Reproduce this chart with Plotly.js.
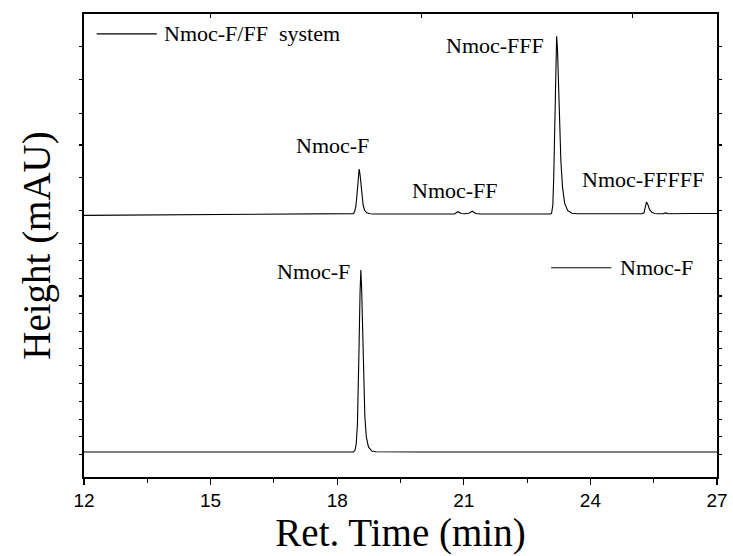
<!DOCTYPE html>
<html>
<head>
<meta charset="utf-8">
<script src="https://cdn.plot.ly/plotly-3.0.1.min.js"></script>
<style>html,body{margin:0;padding:0;background:#fff;}#chart{width:733px;height:556px;}</style>
</head>
<body>
<div id="chart"></div>
<script>
// Nmoc-F/FF system chromatogram (upper trace), offset units of Height (mAU)
const sysTime = [12, 13.5, 15, 16.5, 18, 18.34, 18.38, 18.41, 18.44, 18.46, 18.48, 18.50, 18.52, 18.54, 18.56, 18.585, 18.615, 18.65, 18.70, 18.78, 18.88,
  19.5, 20.3, 20.78, 20.86, 20.94, 21.02, 21.12, 21.20, 21.28, 21.40, 22.2, 23.06, 23.08, 23.11, 23.13, 23.15, 23.17, 23.185, 23.20, 23.22, 23.24, 23.27, 23.30,
  23.34, 23.39, 23.46, 23.56, 23.70, 24.4, 25.22, 25.27, 25.30, 25.33, 25.36, 25.40, 25.45, 25.52, 25.60, 25.72, 25.78, 25.85, 26.4, 27];
const sysHeight = [56.5, 56.55, 56.6, 56.7, 56.75, 56.8, 56.88, 57.22, 58.32, 60.04, 62.62, 65.20, 66.5, 65.44, 63.23, 60.65, 58.69, 57.61, 57.07, 56.85, 56.8,
  56.8, 56.8, 56.8, 57.3, 56.9, 56.85, 56.95, 57.4, 56.9, 56.8, 56.8, 56.8, 56.99, 58.72, 64.48, 74.08, 85.6, 92.51, 95.2, 92.51, 85.6, 76.0, 68.32,
  62.56, 59.10, 57.57, 56.95, 56.85, 56.85, 56.85, 57.05, 58.2, 59.4, 58.9, 57.8, 57.2, 56.9, 56.85, 56.85, 57.05, 56.85, 56.9, 56.9];

// Nmoc-F standard (lower trace)
const fTime = [12, 14, 16, 18, 18.38, 18.42, 18.45, 18.48, 18.50, 18.52, 18.54, 18.56, 18.58, 18.60, 18.625, 18.655, 18.69, 18.74, 18.82, 18.92, 20, 22, 24, 27];
const fHeight = [5.4, 5.4, 5.45, 5.4, 5.4, 5.71, 7.09, 11.57, 18.53, 28.98, 39.43, 44.7, 40.42, 31.46, 21.0, 13.06, 8.66, 6.50, 5.60, 5.45, 5.4, 5.4, 5.4, 5.4];

const xTickVals = [12, 15, 18, 21, 24, 27];
const xTickText = ["12", "15", "18", "21", "24", "27"];
const topTickVals = [15, 20, 25];
const yTickVals = [4.9, 8.7, 12.5, 16.4, 20.2, 24.0, 27.7, 31.5, 35.3, 39.1, 42.9, 46.7, 50.5, 57.5, 64.6, 71.7, 78.6, 85.8, 92.9];

const peakLabels = ["Nmoc-F", "Nmoc-FF", "Nmoc-FFF", "Nmoc-FFFFF", "Nmoc-F"];
const peakLabelX = [17.9, 20.8, 21.75, 25.25, 17.45];
const peakLabelY = [71.5, 61.8, 93.2, 64.3, 44.3];

const legendNames = ["Nmoc-F/FF  system", "Nmoc-F"];

const serif = "Liberation Serif";
const sans = "Liberation Sans";

const traces = [
  {x: sysTime, y: sysHeight, type: "scatter", mode: "lines", name: legendNames[0], line: {color: "#000", width: 1.1}, showlegend: false, hoverinfo: "skip"},
  {x: fTime, y: fHeight, type: "scatter", mode: "lines", name: legendNames[1], line: {color: "#000", width: 1.1}, showlegend: false, hoverinfo: "skip"},
  {x: [12, 27], y: [null, null], xaxis: "x2", type: "scatter", mode: "lines", showlegend: false, hoverinfo: "skip"}
];

const annotations = peakLabels.map((t, i) => ({
  x: peakLabelX[i], y: peakLabelY[i], xref: "x", yref: "y", text: t, showarrow: false,
  font: {family: serif, size: 22, color: "#000"}, xanchor: "center", yanchor: "middle"
}));
// legend entries
annotations.push({x: 0.124, y: 0.957, xref: "paper", yref: "paper", text: legendNames[0], showarrow: false,
  font: {family: serif, size: 22, color: "#000"}, xanchor: "left", yanchor: "middle"});
annotations.push({x: 0.843, y: 0.452, xref: "paper", yref: "paper", text: legendNames[1], showarrow: false,
  font: {family: serif, size: 22, color: "#000"}, xanchor: "left", yanchor: "middle"});

const shapes = [
  {type: "line", xref: "paper", yref: "paper", x0: 0.02, x1: 0.115, y0: 0.957, y1: 0.957, line: {color: "#000", width: 1.1}},
  {type: "line", xref: "paper", yref: "paper", x0: 0.738, x1: 0.833, y0: 0.452, y1: 0.452, line: {color: "#000", width: 1.1}}
];

const layout = {
  width: 733, height: 556,
  font: {family: serif, color: "#000"},
  margin: {l: 84, r: 16, t: 14, b: 79},
  paper_bgcolor: "#fff", plot_bgcolor: "#fff",
  showlegend: false,
  xaxis: {
    range: [12, 27], tickvals: xTickVals, ticktext: xTickText,
    ticks: "outside", ticklen: 6, tickwidth: 1.3, tickcolor: "#000",
    minor: {dtick: 1.5, tick0: 12, ticks: "outside", ticklen: 4, tickwidth: 1.1, tickcolor: "#000", showgrid: false},
    showline: true, linecolor: "#000", linewidth: 1.6, mirror: true,
    showgrid: false, zeroline: false,
    tickfont: {family: sans, size: 19, color: "#000"},
    title: {text: "Ret. Time (min)", font: {family: serif, size: 39, color: "#000"}, standoff: 6}
  },
  xaxis2: {
    overlaying: "x", side: "top", range: [12, 27], tickvals: topTickVals,
    ticks: "inside", ticklen: 4, tickwidth: 1.1, tickcolor: "#000",
    showticklabels: false, showline: false, showgrid: false, zeroline: false
  },
  yaxis: {
    range: [0, 100], tickvals: yTickVals, showticklabels: false,
    ticks: "outside", ticklen: 3, tickwidth: 1.1, tickcolor: "#000",
    showline: true, linecolor: "#000", linewidth: 1.6, mirror: "ticks",
    showgrid: false, zeroline: false,
    title: {text: "Height (mAU)", font: {family: serif, size: 39, color: "#000"}, standoff: 17}
  },
  annotations: annotations,
  shapes: shapes
};

Plotly.newPlot("chart", traces, layout, {staticPlot: true, displayModeBar: false});
</script>
</body>
</html>
